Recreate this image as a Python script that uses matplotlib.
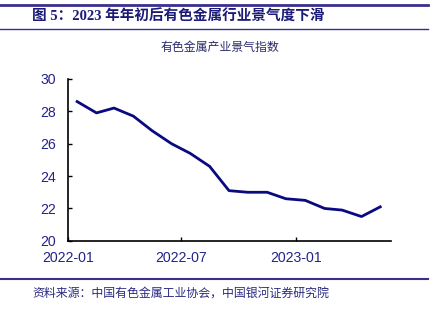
import pandas as pd
import matplotlib.pyplot as plt

plt.rcParams['font.family'] = ['Liberation Sans', 'Noto Sans CJK SC', 'DejaVu Sans']

# 有色金属产业景气指数, monthly 2022-01 .. 2023-05 (mid-month)
months = pd.date_range("2022-01-01", periods=17, freq="MS") + pd.Timedelta(days=14)
values = [28.6, 27.9, 28.2, 27.7, 26.8, 26.0, 25.4, 24.6, 23.1, 23.0,
          23.0, 22.6, 22.5, 22.0, 21.9, 21.5, 22.1]
yticks = [20, 22, 24, 26, 28, 30]
xticks = pd.to_datetime(["2022-01-01", "2022-07-01", "2023-01-01"])
xlabels = ["2022-01", "2022-07", "2023-01"]

title = "图 5：2023 年年初后有色金属行业景气度下滑"
subtitle = "有色金属产业景气指数"
source = "资料来源：中国有色金属工业协会，中国银河证券研究院"

navy = "#1c1c78"
line_col = "#3a2f8f"

fig = plt.figure(figsize=(4.3, 3.22), dpi=100)
ax = fig.add_axes([0.159, 0.252, 0.750, 0.503])

ax.plot(months, values, color="#0a0a80", linewidth=2.0)
ax.set_ylim(20, 30)
ax.set_yticks(yticks)
ax.set_xlim(pd.Timestamp("2022-01-01"), pd.Timestamp("2023-06-01"))
ax.set_xticks(xticks)
ax.set_xticklabels(xlabels)
ax.tick_params(direction="in", length=3, width=1, colors="black",
               labelcolor="#23238a", labelsize=10.2)
ax.tick_params(axis="y", pad=9)
ax.tick_params(axis="x", pad=7)
for s in ["top", "right"]:
    ax.spines[s].set_visible(False)
for s in ["left", "bottom"]:
    ax.spines[s].set_linewidth(1.2)

# header / footer rules
fig.add_artist(plt.Line2D([0.0, 0.995], [1 - 5 / 322, 1 - 5 / 322], color=line_col, linewidth=2.0))
fig.add_artist(plt.Line2D([0.0, 0.995], [1 - 29 / 322, 1 - 29 / 322], color=line_col, linewidth=1.0))
fig.add_artist(plt.Line2D([0.0, 0.995], [1 - 279 / 322, 1 - 279 / 322], color=line_col, linewidth=1.5))

fig.text(32 / 430, 1 - 17 / 322, title, fontsize=10.5, fontweight="bold", color=navy,
         family=["Liberation Serif", "Noto Sans CJK SC"], va="center", ha="left")
fig.text(220 / 430, 1 - 47 / 322, subtitle, fontsize=8.6, color="#2b2b6e",
         family=["Noto Sans CJK SC"], va="center", ha="center")
fig.text(32 / 430, 1 - 293 / 322, source, fontsize=8.6, color="#2a2a80", style="italic",
         family=["Noto Sans CJK SC"], va="center", ha="left")

fig.savefig("out.png", dpi=100)
